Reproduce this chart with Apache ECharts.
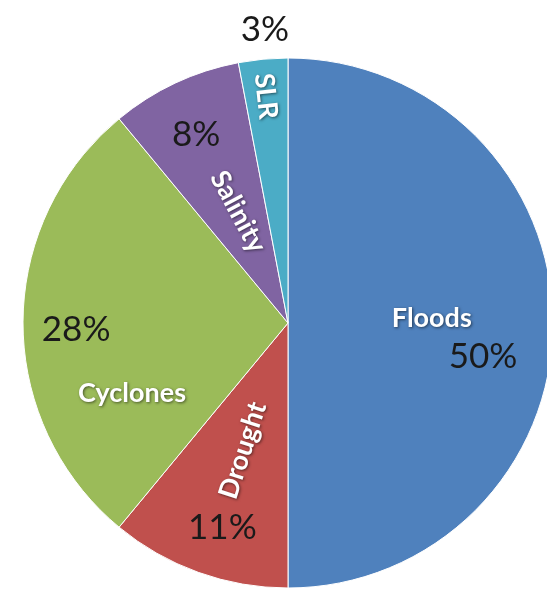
<!DOCTYPE html>
<html>
<head>
<meta charset="utf-8">
<script src="https://cdn.jsdelivr.net/npm/echarts@6/dist/echarts.min.js"></script>
<style>
  html, body { margin: 0; padding: 0; background: #ffffff; }
  #chart { width: 547px; height: 590px; }
</style>
</head>
<body>
<div id="chart"></div>
<script>
// Share of climate hazards
const categories = ['Floods', 'Drought', 'Cyclones', 'Salinity', 'SLR'];
const shares = [50, 11, 28, 8, 3];
const colors = ['#4F81BD', '#C0504D', '#9BBB59', '#8064A2', '#4BACC6'];

// Pie geometry (pixels)
const CX = 288, CY = 323, R = 265;

// Label placement: [angle offset from slice middle (deg), radius fraction]
const nameSpots = [[-2, 0.543], [-0.3, 0.51], [-24.2, 0.645], [1, 0.46], [-0.2, 0.86]];
const pctSpots  = [[9.9, 0.747], [-2, 0.81], [-1.9, 0.80], [-0.8, 0.79], [0.9, 1.11]];
const nameRotate = [0, 72, 0, -62, -84];

const total = shares.reduce((a, b) => a + b, 0);
const midAngles = [];
let acc = 0;
shares.forEach(v => { midAngles.push((acc + v / 2) / total * 360); acc += v; });

function spot(i, table) {
  const a = (midAngles[i] + table[i][0]) * Math.PI / 180;
  const r = table[i][1] * R;
  return { x: CX + r * Math.sin(a), y: CY - r * Math.cos(a) };
}

const data = categories.map((c, i) => ({
  name: c, value: shares[i], itemStyle: { color: colors[i] }
}));

const chart = echarts.init(document.getElementById('chart'), null, { renderer: 'canvas' });
chart.setOption({
  animation: false,
  backgroundColor: '#ffffff',
  series: [
    {
      type: 'pie',
      center: [CX, CY],
      radius: R,
      startAngle: 90,
      clockwise: true,
      silent: true,
      itemStyle: { borderColor: '#ffffff', borderWidth: 1 },
      label: {
        show: true,
        position: 'inside',
        formatter: '{b}',
        color: '#ffffff',
        fontFamily: 'Lato',
        fontWeight: 'bold',
        fontSize: 27,
        textShadowColor: 'rgba(0,0,0,0.55)',
        textShadowBlur: 3,
        textShadowOffsetX: 1,
        textShadowOffsetY: 1
      },
      labelLine: { show: false },
      labelLayout: function (p) {
        const s = spot(p.dataIndex, nameSpots);
        return { x: s.x, y: s.y, rotate: nameRotate[p.dataIndex], align: 'center', verticalAlign: 'middle' };
      },
      data: data
    },
    {
      type: 'pie',
      center: [CX, CY],
      radius: R,
      startAngle: 90,
      clockwise: true,
      silent: true,
      itemStyle: { color: 'rgba(0,0,0,0)' },
      label: {
        show: true,
        position: 'inside',
        formatter: '{c}%',
        color: '#1a1a1a',
        fontFamily: 'Lato',
        fontSize: 35
      },
      labelLine: { show: false },
      labelLayout: function (p) {
        const s = spot(p.dataIndex, pctSpots);
        return { x: s.x, y: s.y, align: 'center', verticalAlign: 'middle' };
      },
      data: categories.map((c, i) => ({ name: c, value: shares[i] }))
    }
  ]
});
</script>
</body>
</html>
